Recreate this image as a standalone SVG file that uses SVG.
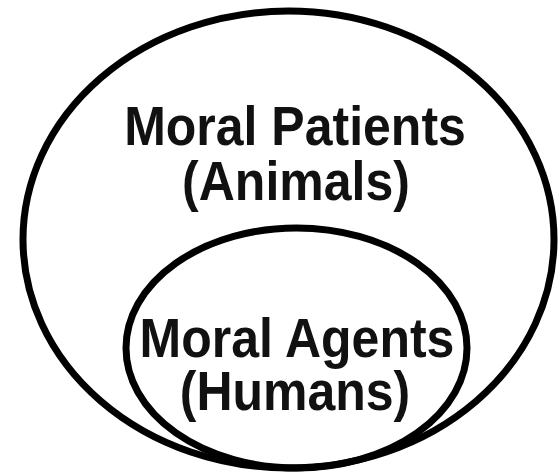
<svg xmlns="http://www.w3.org/2000/svg" width="558" height="473" viewBox="0 0 558 473">
<style>
.ring{fill:none;stroke:#000;stroke-width:7}
.lbl{font-family:"Liberation Sans",Arial,sans-serif;font-weight:bold;font-size:50px;fill:#111;text-anchor:middle}
</style>
<rect width="558" height="473" fill="#fff"/>
<g id="patients">
<ellipse class="ring" cx="288.5" cy="239.5" rx="265.5" ry="228.5"/>
<text class="lbl" transform="translate(295 145) scale(1 1.1)"><tspan x="0" y="0">Moral Patients</tspan><tspan x="1" dy="50">(Animals)</tspan></text>
</g>
<g id="agents">
<ellipse class="ring" cx="296.5" cy="348" rx="170.5" ry="120"/>
<text class="lbl" transform="translate(297 357) scale(1 1.1)"><tspan x="0" y="0">Moral Agents</tspan><tspan x="-2" dy="48.2">(Humans)</tspan></text>
</g>
<g id="connectors"/>
</svg>
